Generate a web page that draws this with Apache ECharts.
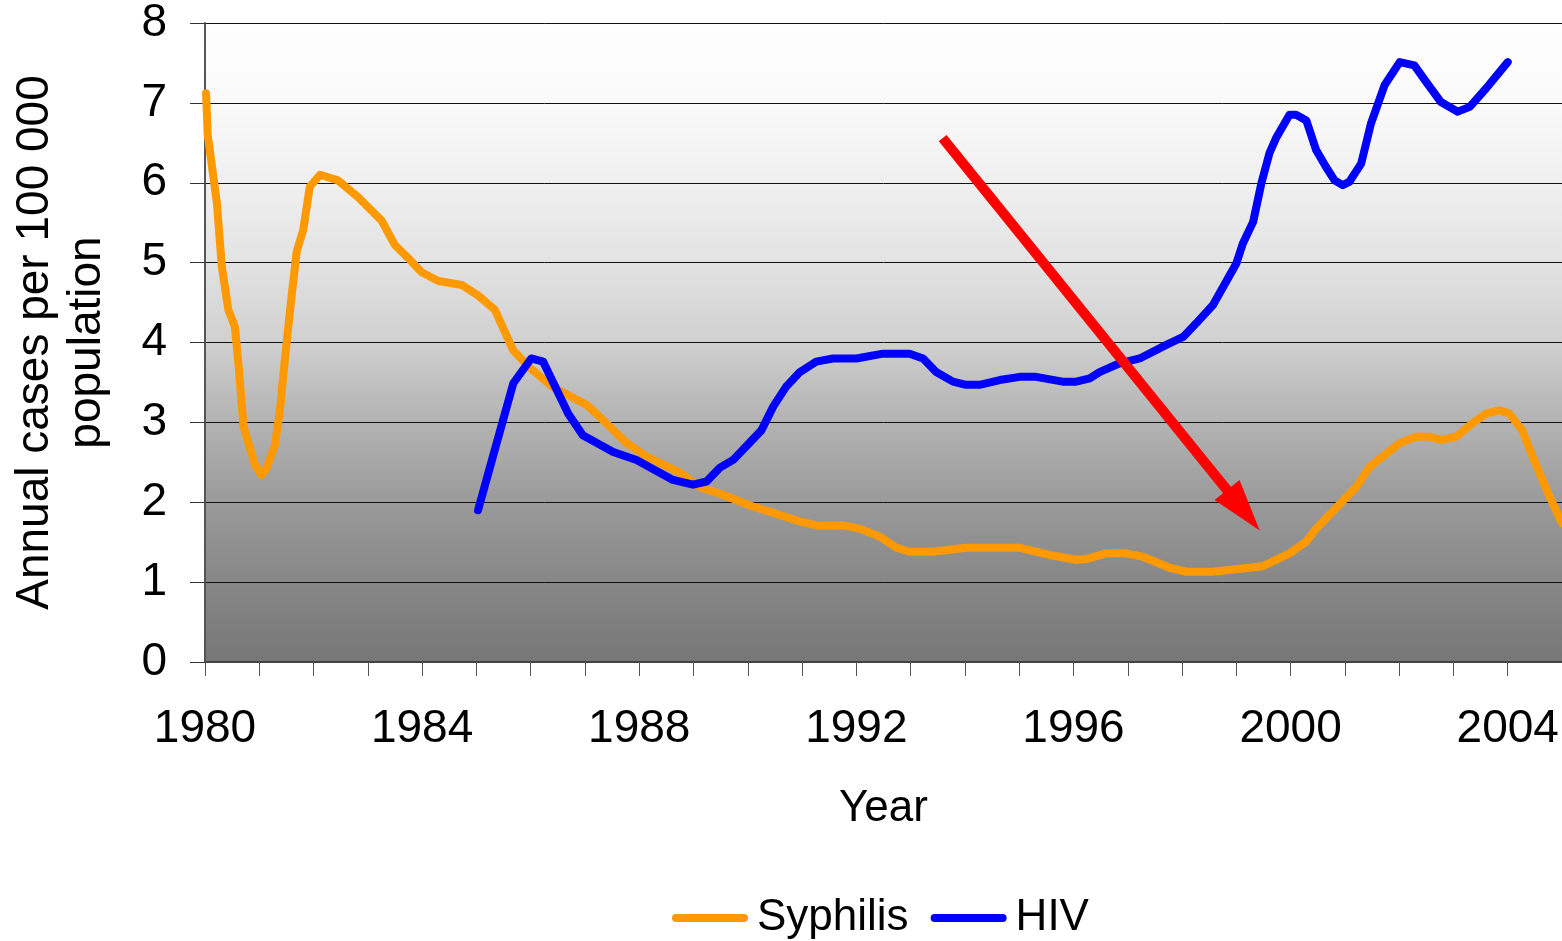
<!DOCTYPE html>
<html>
<head>
<meta charset="utf-8">
<script src="https://cdn.jsdelivr.net/npm/echarts@6/dist/echarts.min.js"></script>
<style>
html,body{margin:0;padding:0;background:#fff;}
#chart{width:1562px;height:941px;}
</style>
</head>
<body>
<div id="chart"></div>
<script>
// ---- data ----
const syphilisYears = [1980.02, 1980.05, 1980.22, 1980.31, 1980.43, 1980.55, 1980.61, 1980.71, 1980.80, 1980.92,
  1981.04, 1981.13, 1981.29, 1981.38, 1981.47, 1981.60, 1981.69, 1981.81, 1981.93, 1982.12,
  1982.45, 1982.82, 1983.25, 1983.50, 1983.74, 1983.99, 1984.30, 1984.73, 1985.03, 1985.34,
  1985.68, 1985.99, 1986.41, 1987.03, 1987.27, 1987.77, 1988.14, 1988.75, 1989.12, 1989.48,
  1990.04, 1990.96, 1991.26, 1991.75, 1992.06, 1992.43, 1992.74, 1992.98, 1993.41, 1994.03,
  1995.01, 1995.56, 1996.05, 1996.25, 1996.60, 1996.97, 1997.27, 1997.77, 1998.08, 1998.56,
  1999.49, 1999.98, 2000.29, 2000.47, 2001.21, 2001.45, 2002.01, 2002.31, 2002.55, 2002.77,
  2003.05, 2003.35, 2003.60, 2003.85, 2004.03, 2004.27, 2004.46, 2004.77, 2005.00];
const syphilisValues = [7.12, 6.60, 5.74, 4.95, 4.41, 4.20, 3.78, 2.95, 2.74, 2.47,
  2.34, 2.42, 2.72, 3.15, 3.78, 4.61, 5.14, 5.41, 5.95, 6.10,
  6.03, 5.82, 5.53, 5.22, 5.06, 4.88, 4.77, 4.72, 4.59, 4.41,
  3.90, 3.68, 3.44, 3.22, 3.07, 2.74, 2.57, 2.37, 2.19, 2.11,
  1.96, 1.76, 1.71, 1.71, 1.67, 1.57, 1.43, 1.38, 1.38, 1.43,
  1.43, 1.34, 1.28, 1.29, 1.36, 1.36, 1.32, 1.18, 1.13, 1.13,
  1.20, 1.36, 1.51, 1.67, 2.19, 2.44, 2.74, 2.82, 2.82, 2.78,
  2.82, 2.99, 3.11, 3.15, 3.11, 2.90, 2.57, 2.07, 1.74];

const hivYears = [1985.03, 1985.25, 1985.68, 1986.01, 1986.23, 1986.69, 1986.96, 1987.52, 1987.95, 1988.62,
  1988.99, 1989.24, 1989.48, 1989.73, 1990.25, 1990.47, 1990.71, 1990.96, 1991.26, 1991.57,
  1992.00, 1992.49, 1992.98, 1993.23, 1993.47, 1993.78, 1994.02, 1994.27, 1994.64, 1995.01,
  1995.31, 1995.80, 1996.05, 1996.30, 1996.48, 1996.85, 1997.22, 1997.71, 1998.02, 1998.26,
  1998.57, 1999.00, 1999.12, 1999.31, 1999.46, 1999.61, 1999.74, 1999.98, 2000.10, 2000.29,
  2000.47, 2000.65, 2000.81, 2000.96, 2001.08, 2001.30, 2001.48, 2001.73, 2002.01, 2002.28,
  2002.49, 2002.77, 2003.08, 2003.30, 2003.60, 2004.00];
const hivValues = [1.90, 2.44, 3.49, 3.80, 3.76, 3.11, 2.84, 2.63, 2.53, 2.28,
  2.22, 2.26, 2.43, 2.53, 2.90, 3.20, 3.45, 3.63, 3.76, 3.80,
  3.80, 3.86, 3.86, 3.80, 3.63, 3.51, 3.47, 3.47, 3.53, 3.57,
  3.57, 3.51, 3.51, 3.55, 3.63, 3.74, 3.80, 3.97, 4.07, 4.24,
  4.47, 4.99, 5.24, 5.51, 5.99, 6.37, 6.57, 6.85, 6.85, 6.78,
  6.41, 6.20, 6.03, 5.97, 6.01, 6.24, 6.74, 7.22, 7.51, 7.47,
  7.27, 7.01, 6.89, 6.95, 7.18, 7.51];

const seriesNames = ['Syphilis', 'HIV'];
const arrowStart = [1993.59, 6.56];
const arrowEnd = [1999.13, 1.90];
const xTickLabels = [1980, 1984, 1988, 1992, 1996, 2000, 2004];
const yTickLabels = [0, 1, 2, 3, 4, 5, 6, 7, 8];

// ---- chart ----
const FONT = 'Liberation Sans, Arial, sans-serif';
const zip = (xs, ys) => xs.map((x, i) => [x, ys[i]]);
const LEGEND_ICON = 'path://M4,0 L72,0 A4,4 0 0 1 72,8 L4,8 A4,4 0 0 1 4,0 Z';

const chart = echarts.init(document.getElementById('chart'), null, {renderer: 'canvas'});
chart.setOption({
  animation: false,
  backgroundColor: '#ffffff',
  grid: {
    left: 205, right: 0, top: 23, bottom: 279,
    containLabel: false,
    outerBoundsMode: 'none',
    show: true, borderWidth: 0,
    backgroundColor: new echarts.graphic.LinearGradient(0, 0, 0, 1, [
      {offset: 0, color: '#fefefe'},
      {offset: 0.12, color: '#fafafa'},
      {offset: 0.245, color: '#f0f0f0'},
      {offset: 0.37, color: '#e3e3e3'},
      {offset: 0.5, color: '#d0d0d0'},
      {offset: 0.59, color: '#bababa'},
      {offset: 0.75, color: '#9a9a9a'},
      {offset: 0.9, color: '#838383'},
      {offset: 1, color: '#777777'}
    ])
  },
  legend: {
    data: seriesNames.map(n => ({name: n, icon: LEGEND_ICON})),
    bottom: -4,
    left: 667,
    itemWidth: 76,
    itemHeight: 8,
    itemGap: 22,
    textStyle: {fontFamily: FONT, fontSize: 44, color: '#000', padding: [0, 0, 0, 4]}
  },
  xAxis: {
    type: 'value',
    min: 1980, max: 2005, interval: 1,
    name: 'Year',
    nameLocation: 'middle',
    nameGap: 125,
    nameTextStyle: {fontFamily: FONT, fontSize: 44, color: '#000'},
    axisLine: {show: true, lineStyle: {color: '#444', width: 2}},
    axisTick: {show: true, length: 14, lineStyle: {color: '#555', width: 1}},
    splitLine: {show: false},
    axisLabel: {
      margin: 44,
      fontFamily: FONT, fontSize: 46, color: '#000',
      formatter: v => xTickLabels.indexOf(v) >= 0 ? String(v) : ''
    }
  },
  yAxis: {
    type: 'value',
    min: 0, max: 8, interval: 1,
    name: 'Annual cases per 100 000\npopulation',
    nameLocation: 'middle',
    nameRotate: 90,
    nameGap: 92,
    nameTextStyle: {fontFamily: FONT, fontSize: 46, color: '#000', lineHeight: 52, align: 'center'},
    axisLine: {show: true, lineStyle: {color: '#555', width: 2}},
    axisTick: {show: true, length: 15, lineStyle: {color: '#333', width: 1}},
    splitLine: {show: true, lineStyle: {color: '#111', width: 1}},
    axisLabel: {
      margin: 38,
      fontFamily: FONT, fontSize: 46, color: '#000',
      formatter: v => yTickLabels.indexOf(v) >= 0 ? String(v) : ''
    }
  },
  series: [
    {
      name: seriesNames[0],
      type: 'line',
      data: zip(syphilisYears, syphilisValues),
      symbol: 'none',
      color: '#ff9900',
      lineStyle: {color: '#ff9900', width: 8, cap: 'round', join: 'round'},
      z: 3
    },
    {
      name: seriesNames[1],
      type: 'line',
      data: zip(hivYears, hivValues),
      symbol: 'none',
      color: '#0000ff',
      lineStyle: {color: '#0000ff', width: 8, cap: 'round', join: 'round'},
      z: 4,
      markLine: {
        silent: true,
        animation: false,
        label: {show: false},
        emphasis: {disabled: true},
        itemStyle: {color: '#ff0000'},
        lineStyle: {color: '#ff0000', width: 10, type: 'solid', cap: 'butt'},
        data: [[
          {coord: arrowStart, symbol: 'none'},
          {coord: arrowEnd, symbol: 'triangle', symbolSize: [32, 52], itemStyle: {color: '#ff0000'}}
        ]]
      }
    }
  ]
});
</script>
</body>
</html>
